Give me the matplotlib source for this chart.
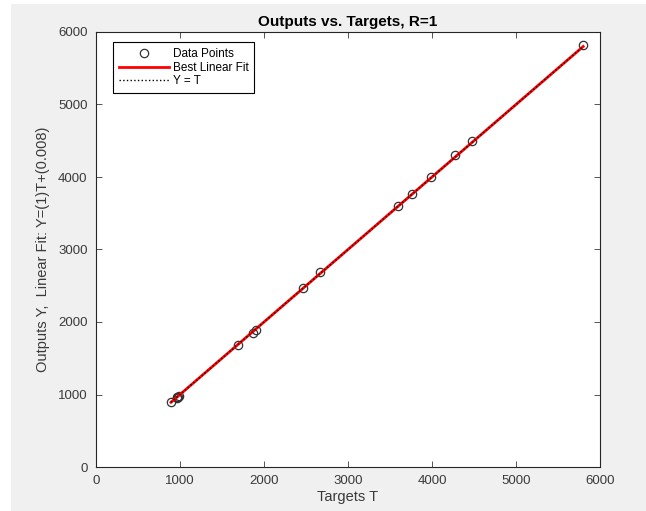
import matplotlib.pyplot as plt
import matplotlib.patches as mpatches
import numpy as np

plt.rcParams['font.family'] = ['Liberation Sans', 'DejaVu Sans']

# targets and network outputs
targets = [893, 960, 968, 975, 985, 1690, 1869, 1905, 2464, 2667,
           3595, 3762, 3988, 4274, 4476, 5800]
outputs = [897, 955, 965, 972, 980, 1683, 1850, 1890, 2469, 2690,
           3600, 3766, 4000, 4303, 4497, 5821]
slope = 1.0
offset = 0.008

fig = plt.figure(figsize=(6.46, 5.11), dpi=100)
fig.patch.set_facecolor('#f0f0f0')
# white strip along the left and top edges
fig.patches.append(mpatches.Rectangle((0, 0), 11 / 646, 1, transform=fig.transFigure,
                                      facecolor='white', edgecolor='none', zorder=0))
fig.patches.append(mpatches.Rectangle((0, 1 - 4 / 511), 1, 4 / 511, transform=fig.transFigure,
                                      facecolor='white', edgecolor='none', zorder=0))

ax = fig.add_axes([96 / 646, 1 - 467 / 511, 504 / 646, 435 / 511])

t = np.array(targets)
fit_x = np.array([t.min(), t.max()])
ax.plot(t, outputs, 'o', mfc='none', mec='#333333', ms=6, mew=0.9, label='Data Points')
ax.plot(fit_x, slope * fit_x + offset, color='red', lw=2, label='Best Linear Fit')
ax.plot(fit_x, fit_x, ':', color='black', lw=1, label='Y = T')

ax.set_xlim(0, 6000)
ax.set_ylim(0, 6000)
ax.set_xticks(range(0, 6001, 1000))
ax.set_yticks(range(0, 6001, 1000))
ax.tick_params(direction='in', top=True, right=True, length=4, width=0.6,
               labelsize=9.5, colors='#3a3a3a', pad=6)
for s in ax.spines.values():
    s.set_linewidth(0.8)
    s.set_color('#262626')

ax.set_title('Outputs vs. Targets, R=1', fontsize=11, fontweight='bold', pad=4)
ax.set_xlabel('Targets T', fontsize=10.5, color='#3a3a3a', labelpad=2)
ax.set_ylabel('Outputs Y,  Linear Fit: Y=(1)T+(0.008)', fontsize=10.5, color='#3a3a3a', labelpad=6)

leg = ax.legend(loc='upper left', bbox_to_anchor=(0.033, 0.977), fontsize=8.5,
                fancybox=False, edgecolor='black', framealpha=1, borderpad=0.5,
                labelspacing=0.15, handlelength=4.3, handletextpad=0.3, borderaxespad=0)
leg.get_frame().set_linewidth(0.8)

fig.savefig('out.png', dpi=100, facecolor=fig.get_facecolor())
